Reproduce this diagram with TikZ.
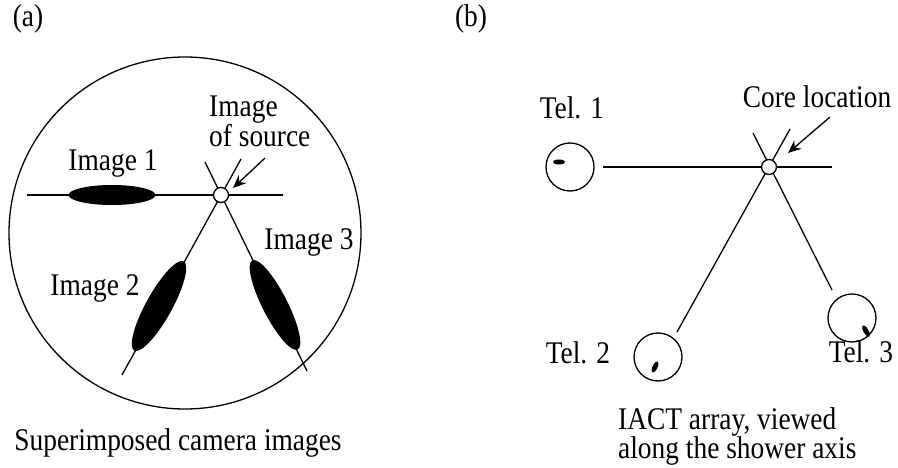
\documentclass[tikz,border=0pt]{standalone}
\usepackage{fontspec}
\setmainfont{Liberation Serif}[FakeStretch=0.87]
\usetikzlibrary{arrows.meta,positioning,shapes.geometric}

\begin{document}
\begin{tikzpicture}[
  x=1pt, y=-1pt,
  lbl/.style={font=\fontsize{31.5}{29}\selectfont, inner sep=0pt},
  axis/.style={line width=1.3pt},
  hub/.style={circle, draw, line width=1.3pt, fill=white, minimum size=15pt, inner sep=0pt},
  tel/.style={circle, draw, line width=1.3pt, minimum size=48pt, inner sep=0pt},
  blob/.style={ellipse, fill=black, inner sep=0pt},
  pointer/.style={-{Stealth[length=13pt,width=11pt]}, line width=1.3pt}
]
  \useasboundingbox (0,0) rectangle (898,468);

  % (a) superimposed camera images
  \node[lbl, anchor=base] (taga) at (28,27) {(a)};
  \node[circle, draw, line width=1.3pt, minimum size=352pt, inner sep=0pt] (camera) at (185,233) {};

  \coordinate (a1l) at (27,195);
  \coordinate (a1r) at (283,195);
  \coordinate (a2l) at (122,375);
  \coordinate (a2u) at (241,159);
  \coordinate (a3r) at (307,371);
  \coordinate (a3u) at (205,162);
  \draw[axis] (a1l) -- (a1r);
  \draw[axis] (a2l) -- (a2u);
  \draw[axis] (a3r) -- (a3u);

  \node[blob, minimum width=87pt, minimum height=20pt] (img1) at (112,195) {};
  \node[blob, minimum width=102pt, minimum height=26pt, rotate=61] (img2) at (159,306) {};
  \node[blob, minimum width=100pt, minimum height=25pt, rotate=-63] (img3) at (275,305) {};
  \node[hub] (source) at (221,195) {};

  \node[lbl, anchor=base] (img1lbl) at (113,171) {Image 1};
  \node[lbl, anchor=base] (img2lbl) at (95,295) {Image 2};
  \node[lbl, anchor=base] (img3lbl) at (309,250) {Image 3};
  \node[lbl, anchor=base west] (srcl1) at (209,117) {Image};
  \node[lbl, anchor=base west] (srcl2) at (209,147) {of source};
  \coordinate (srctail) at (265,158);
  \coordinate (srchead) at (233,188);
  \draw[pointer] (srctail) -- (srchead);

  \node[lbl, anchor=base] (capa) at (178,450) {Superimposed camera images};

  % (b) telescope array on the ground
  \node[lbl, anchor=base] (tagb) at (471,27) {(b)};

  \coordinate (b1l) at (603,167);
  \coordinate (b1r) at (832,167);
  \coordinate (b2l) at (677,332);
  \coordinate (b2u) at (790,129);
  \coordinate (b3r) at (832,290);
  \coordinate (b3u) at (753,133);
  \draw[axis] (b1l) -- (b1r);
  \draw[axis] (b2l) -- (b2u);
  \draw[axis] (b3r) -- (b3u);
  \node[hub] (core) at (769,167) {};

  \node[tel] (tel1) at (570,167) {};
  \node[tel] (tel2) at (658,357) {};
  \node[tel] (tel3) at (852,318) {};
  \node[blob, minimum width=12pt, minimum height=5pt] (shw1) at (559,162) {};
  \node[blob, minimum width=12pt, minimum height=5pt, rotate=64] (shw2) at (655,367) {};
  \node[blob, minimum width=13pt, minimum height=5pt, rotate=-60] (shw3) at (866,331) {};

  \node[lbl, anchor=base] (tel1lbl) at (572,119) {Tel. 1};
  \node[lbl, anchor=base] (tel2lbl) at (578,363) {Tel. 2};
  \node[lbl, anchor=base] (tel3lbl) at (861,362) {Tel. 3};
  \node[lbl, anchor=base] (corelbl) at (817,108) {Core location};
  \coordinate (coretail) at (830,117);
  \coordinate (corehead) at (788,153);
  \draw[pointer] (coretail) -- (corehead);

  \node[lbl, anchor=base west] (capb1) at (618,429) {IACT array, viewed};
  \node[lbl, anchor=base west] (capb2) at (618,458) {along the shower axis};
\end{tikzpicture}
\end{document}
